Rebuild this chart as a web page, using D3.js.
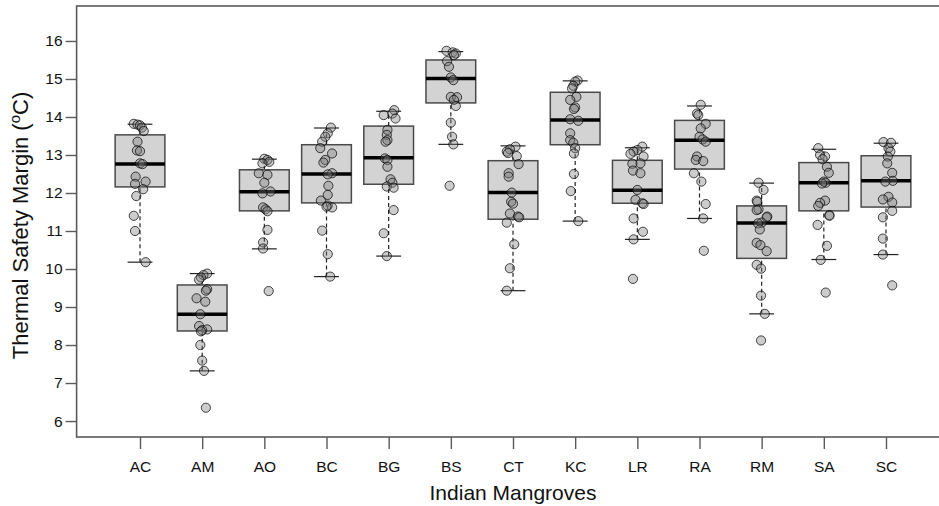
<!DOCTYPE html>
<html>
<head>
<meta charset="utf-8">
<script src="https://cdn.jsdelivr.net/npm/d3@7/dist/d3.min.js"></script>
<style>
  html, body { margin: 0; padding: 0; background: #fff; }
  svg { display: block; font-family: "Liberation Sans", Arial, sans-serif; }
</style>
</head>
<body>
<svg id="chart" width="939" height="506"></svg>
<script>
// Sites (Indian mangroves)
const categories = ["AC", "AM", "AO", "BC", "BG", "BS", "CT", "KC", "LR", "RA", "RM", "SA", "SC"];

// Box summary per site (°C)
const lowerWhisker = [10.18, 7.32, 10.53, 9.80, 10.34, 13.28, 9.43, 11.26, 10.78, 11.33, 8.82, 10.25, 10.38];
const lowerQuartile = [12.16, 8.37, 11.53, 11.74, 12.23, 14.37, 11.31, 13.27, 11.73, 12.63, 10.28, 11.53, 11.63];
const medians = [12.76, 8.81, 12.03, 12.50, 12.93, 15.01, 12.01, 13.92, 12.07, 13.39, 11.21, 12.27, 12.32];
const upperQuartile = [13.53, 9.58, 12.61, 13.27, 13.76, 15.50, 12.85, 14.65, 12.86, 13.91, 11.66, 12.80, 12.98];
const upperWhisker = [13.81, 9.88, 12.89, 13.71, 14.15, 15.72, 13.24, 14.95, 13.19, 14.29, 12.26, 13.15, 13.31];

// Individual thermal safety margins per site, with horizontal jitter (in category steps)
const valuesAC = [13.82, 13.80, 13.78, 13.72, 13.63, 13.35, 13.12, 13.10, 12.78, 12.76, 12.43, 12.30, 12.24, 12.10, 11.92, 11.40, 11.00, 10.18];
const jitterAC = [-0.10, -0.04, 0.00, 0.03, 0.06, -0.04, -0.05, 0.00, 0.00, 0.04, -0.07, 0.09, -0.08, 0.05, -0.06, -0.10, -0.08, 0.09];
const valuesAM = [9.88, 9.84, 9.78, 9.72, 9.47, 9.43, 9.23, 9.14, 8.81, 8.50, 8.41, 8.39, 8.36, 8.00, 7.59, 7.32, 6.35];
const jitterAM = [0.08, 0.02, -0.02, -0.05, 0.08, 0.06, -0.09, 0.05, -0.03, -0.05, 0.08, 0.00, -0.02, -0.03, 0.00, 0.03, 0.06];
const valuesAO = [12.90, 12.87, 12.82, 12.78, 12.52, 12.48, 12.27, 12.04, 11.99, 11.62, 11.57, 11.52, 11.03, 10.70, 10.54, 9.42];
const jitterAO = [0.00, 0.05, 0.08, -0.03, -0.09, 0.05, 0.00, 0.10, -0.03, -0.02, 0.02, 0.05, 0.05, -0.02, -0.02, 0.07];
const valuesBC = [13.72, 13.57, 13.48, 13.35, 13.18, 13.04, 12.87, 12.80, 12.52, 12.49, 12.19, 11.95, 11.80, 11.67, 11.62, 11.64, 11.01, 10.39, 9.80];
const jitterBC = [0.07, 0.02, -0.02, -0.07, -0.10, 0.09, -0.02, -0.05, 0.09, 0.02, 0.03, 0.02, -0.09, 0.02, 0.09, 0.00, -0.07, 0.02, 0.06];
const valuesBG = [14.18, 14.09, 14.05, 13.96, 13.66, 13.53, 13.39, 13.35, 12.91, 12.87, 12.69, 12.36, 12.27, 12.17, 12.14, 11.55, 10.94, 10.34];
const jitterBG = [0.09, 0.06, -0.08, 0.11, -0.02, -0.03, -0.02, -0.05, -0.06, -0.02, -0.02, 0.03, 0.06, -0.03, 0.08, 0.08, -0.08, -0.03];
const valuesBS = [15.74, 15.70, 15.67, 15.63, 15.47, 15.32, 15.04, 14.97, 14.53, 14.52, 14.45, 14.29, 13.85, 13.48, 13.28, 12.19];
const jitterBS = [-0.07, 0.03, 0.08, 0.05, -0.06, -0.03, 0.00, 0.04, 0.00, 0.10, 0.05, 0.08, 0.00, 0.02, 0.04, -0.02];
const valuesCT = [13.22, 13.15, 13.09, 13.05, 12.97, 12.76, 12.52, 12.43, 12.01, 11.77, 11.72, 11.46, 11.38, 11.36, 11.22, 10.65, 10.02, 9.43];
const jitterCT = [0.04, -0.05, -0.10, -0.08, 0.06, 0.09, -0.07, -0.07, -0.02, -0.03, 0.00, -0.05, 0.08, 0.10, -0.10, 0.02, -0.05, -0.10];
const valuesKC = [14.96, 14.93, 14.82, 14.75, 14.53, 14.45, 14.25, 14.21, 13.94, 13.90, 13.57, 13.39, 13.32, 13.18, 13.04, 12.50, 12.05, 11.26];
const jitterKC = [0.04, 0.00, -0.03, -0.05, 0.02, -0.08, 0.00, -0.02, -0.08, 0.05, -0.08, -0.08, -0.03, 0.00, -0.02, -0.02, -0.07, 0.05];
const valuesLR = [13.22, 13.13, 13.09, 13.03, 12.96, 12.78, 12.77, 12.59, 12.52, 12.08, 11.82, 11.73, 11.71, 11.33, 10.98, 10.78, 9.74];
const jitterLR = [0.08, 0.00, -0.06, -0.11, 0.10, 0.05, -0.08, -0.07, 0.05, 0.00, -0.03, 0.08, 0.10, -0.06, 0.09, -0.06, -0.07];
const valuesRA = [14.32, 14.09, 14.05, 13.82, 13.70, 13.48, 13.41, 13.35, 12.96, 12.87, 12.84, 12.52, 12.30, 11.71, 11.33, 10.48];
const jitterRA = [0.02, -0.04, -0.02, 0.10, 0.02, 0.00, 0.05, 0.10, -0.04, -0.06, 0.06, -0.09, 0.03, 0.10, 0.06, 0.07];
const valuesRM = [12.27, 12.08, 11.80, 11.77, 11.57, 11.55, 11.38, 11.36, 11.22, 11.20, 11.04, 10.69, 10.63, 10.47, 10.11, 10.01, 9.30, 8.82, 8.12];
const jitterRM = [-0.05, 0.03, -0.08, -0.07, -0.05, -0.08, 0.09, 0.08, 0.00, -0.06, -0.03, -0.08, -0.02, 0.08, -0.08, -0.01, -0.01, 0.05, -0.01];
const valuesSA = [13.18, 13.00, 12.96, 12.89, 12.69, 12.53, 12.30, 12.27, 12.25, 11.80, 11.74, 11.66, 11.42, 11.40, 11.16, 10.61, 10.24, 9.38];
const jitterSA = [-0.09, -0.06, 0.02, -0.02, 0.05, 0.08, 0.00, 0.03, -0.03, 0.02, -0.06, -0.09, 0.09, 0.09, -0.10, 0.05, -0.05, 0.03];
const valuesSC = [13.34, 13.32, 13.18, 13.09, 12.96, 12.78, 12.53, 12.32, 12.30, 11.90, 11.83, 11.75, 11.53, 11.36, 10.80, 10.38, 9.57];
const jitterSC = [-0.04, 0.08, 0.04, 0.07, 0.03, 0.02, 0.10, 0.11, -0.01, 0.04, -0.05, 0.10, 0.10, -0.05, -0.05, -0.05, 0.10];

const yTicks = [6, 7, 8, 9, 10, 11, 12, 13, 14, 15, 16];
const xTitle = "Indian Mangroves";

const siteValues = [valuesAC, valuesAM, valuesAO, valuesBC, valuesBG, valuesBS, valuesCT, valuesKC, valuesLR, valuesRA, valuesRM, valuesSA, valuesSC];
const siteJitter = [jitterAC, jitterAM, jitterAO, jitterBC, jitterBG, jitterBS, jitterCT, jitterKC, jitterLR, jitterRA, jitterRM, jitterSA, jitterSC];

const boxes = categories.map((c, i) => ({
  site: c, pos: i + 1,
  lo: lowerWhisker[i], q1: lowerQuartile[i], med: medians[i], q3: upperQuartile[i], hi: upperWhisker[i]
}));
const points = [];
categories.forEach((c, i) => {
  siteValues[i].forEach((v, k) => points.push({ site: c, pos: i + 1 + siteJitter[i][k], value: v }));
});

// Plot region (the right side of the frame runs past the page edge)
const frame = { left: 76.6, right: 949.4, top: 6, bottom: 437 };
const x = d3.scaleLinear().domain([-0.02, categories.length + 1.02]).range([frame.left, frame.right]);
const y = d3.scaleLinear().domain([5.58, 16.92]).range([frame.bottom, frame.top]);

const svg = d3.select("#chart");
const axisColor = "#5a5a5a";
const fontStack = "'Liberation Sans', Arial, sans-serif";

// Boxes
const halfBox = 0.4, halfCap = 0.2;
const g = svg.append("g");
boxes.forEach(b => {
  const bg = g.append("g");
  // dashed whiskers
  [[b.q3, b.hi], [b.lo, b.q1]].forEach(([a, z]) => {
    bg.append("line")
      .attr("x1", x(b.pos)).attr("x2", x(b.pos))
      .attr("y1", y(a)).attr("y2", y(z))
      .attr("stroke", "#222").attr("stroke-width", 1.2)
      .attr("stroke-dasharray", "4,3");
  });
  // staples
  [b.lo, b.hi].forEach(v => {
    bg.append("line")
      .attr("x1", x(b.pos - halfCap)).attr("x2", x(b.pos + halfCap))
      .attr("y1", y(v)).attr("y2", y(v))
      .attr("stroke", "#222").attr("stroke-width", 1.2);
  });
  bg.append("rect")
    .attr("x", x(b.pos - halfBox)).attr("width", x(b.pos + halfBox) - x(b.pos - halfBox))
    .attr("y", y(b.q3)).attr("height", y(b.q1) - y(b.q3))
    .attr("fill", "#d3d3d3").attr("stroke", "#4a4a4a").attr("stroke-width", 1.5);
  bg.append("line")
    .attr("x1", x(b.pos - halfBox)).attr("x2", x(b.pos + halfBox))
    .attr("y1", y(b.med)).attr("y2", y(b.med))
    .attr("stroke", "#000").attr("stroke-width", 3.5);
});

// Jittered observations
svg.append("g").selectAll("circle")
  .data(points)
  .join("circle")
  .attr("cx", d => x(d.pos))
  .attr("cy", d => y(d.value))
  .attr("r", 4.6)
  .attr("fill", "rgba(120,120,120,0.38)")
  .attr("stroke", "rgba(0,0,0,0.7)")
  .attr("stroke-width", 1);

// Frame
svg.append("rect")
  .attr("x", frame.left).attr("y", frame.top)
  .attr("width", frame.right - frame.left).attr("height", frame.bottom - frame.top)
  .attr("fill", "none").attr("stroke", axisColor).attr("stroke-width", 1.6);

// Y axis
const yAxis = d3.axisLeft(y).tickValues(yTicks).tickSize(11).tickPadding(3).tickFormat(d3.format("d"));
const ya = svg.append("g").attr("transform", `translate(${frame.left},0)`).call(yAxis);
ya.select(".domain").remove();
ya.selectAll(".tick line").attr("stroke", axisColor).attr("stroke-width", 1.4);
ya.selectAll(".tick text").attr("fill", "#111").style("font-size", "15.5px")
  .style("font-family", fontStack);

// X axis
const xAxis = d3.axisBottom(x).tickValues(categories.map((c, i) => i + 1))
  .tickFormat((d, i) => categories[i]).tickSize(12).tickPadding(12);
const xa = svg.append("g").attr("transform", `translate(0,${frame.bottom})`).call(xAxis);
xa.select(".domain").remove();
xa.selectAll(".tick line").attr("stroke", axisColor).attr("stroke-width", 1.4);
xa.selectAll(".tick text").attr("fill", "#111").style("font-size", "15.5px")
  .style("font-family", fontStack);

// Axis titles
svg.append("text")
  .attr("x", (frame.left + frame.right) / 2).attr("y", 500)
  .attr("text-anchor", "middle")
  .style("font-size", "21px").style("font-family", fontStack).attr("fill", "#111")
  .text(xTitle);

const yt = svg.append("text")
  .attr("transform", `translate(28,${(frame.top + frame.bottom) / 2 + 4}) rotate(-90)`)
  .attr("text-anchor", "middle")
  .style("font-size", "22px").style("font-family", fontStack).attr("fill", "#111");
yt.append("tspan").text("Thermal Safety Margin (");
yt.append("tspan").attr("dy", -8).style("font-size", "15px").text("o");
yt.append("tspan").attr("dy", 8).text("C)");
</script>
</body>
</html>
